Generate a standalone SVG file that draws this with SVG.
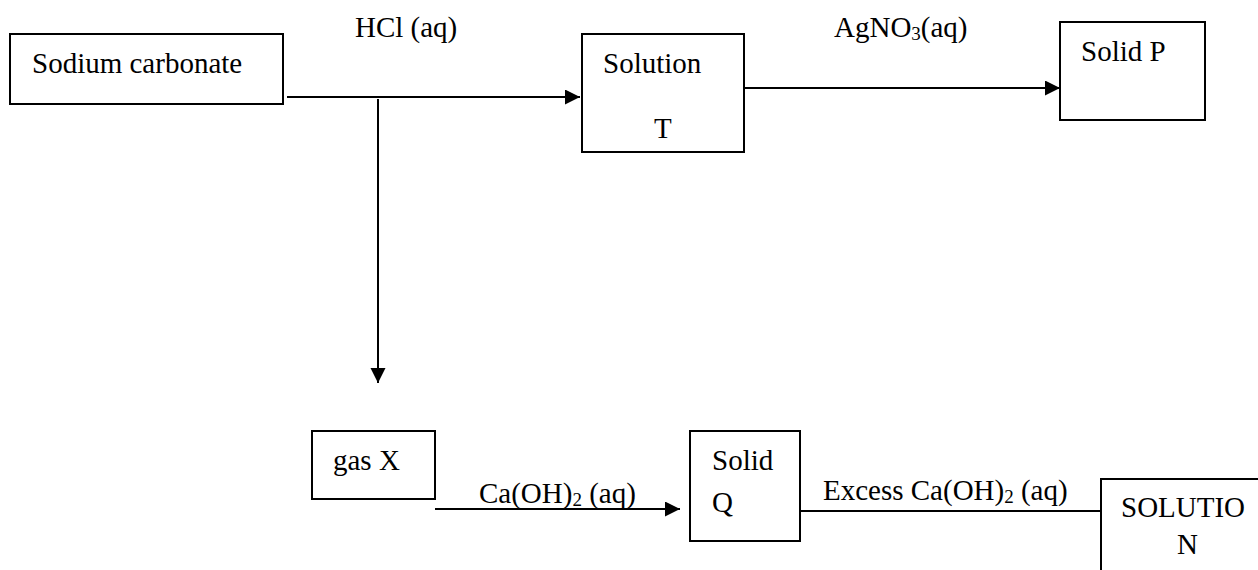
<svg xmlns="http://www.w3.org/2000/svg" width="1258" height="570" viewBox="0 0 1258 570">
<style>
.box{fill:#fff;stroke:#000;stroke-width:2}
.t{font-family:"Liberation Serif","Times New Roman",serif;font-size:29px;fill:#000}
.ln{stroke:#000;stroke-width:2;fill:none}
.sub{font-size:19px}
</style>
<defs>
<marker id="ah" markerWidth="16" markerHeight="16" refX="15" refY="7.5" orient="auto" markerUnits="userSpaceOnUse">
<path d="M0,0 L15,7.5 L0,15 Z" fill="#000"/>
</marker>
</defs>
<rect width="1258" height="570" fill="#fff"/>
<g id="connectors">
<line class="ln" x1="287" y1="97" x2="580" y2="97" marker-end="url(#ah)"/>
<line class="ln" x1="378" y1="99" x2="378" y2="383" marker-end="url(#ah)"/>
<line class="ln" x1="744" y1="88" x2="1060" y2="88" marker-end="url(#ah)"/>
<line class="ln" x1="435" y1="509" x2="680" y2="509" marker-end="url(#ah)"/>
<line class="ln" x1="800" y1="511" x2="1101" y2="511"/>
<text class="t" x="355" y="37">HCl (aq)</text>
<text class="t" x="834" y="37">AgNO<tspan class="sub" dy="3">3</tspan><tspan dy="-3">(aq)</tspan></text>
<text class="t" x="479" y="503">Ca(OH)<tspan class="sub" dy="3">2</tspan><tspan dy="-3"> (aq)</tspan></text>
<text class="t" x="823" y="500">Excess Ca(OH)<tspan class="sub" dy="3">2</tspan><tspan dy="-3"> (aq)</tspan></text>
</g>
<g id="sodium-carbonate">
<rect class="box" x="10" y="34" width="273" height="70"/>
<text class="t" x="32" y="73">Sodium carbonate</text>
</g>
<g id="solution-t">
<rect class="box" x="582" y="34" width="162" height="118"/>
<text class="t" x="603" y="73">Solution</text>
<text class="t" x="654" y="138">T</text>
</g>
<g id="solid-p">
<rect class="box" x="1060" y="22" width="145" height="98"/>
<text class="t" x="1081" y="61">Solid P</text>
</g>
<g id="gas-x">
<rect class="box" x="312" y="431" width="123" height="68"/>
<text class="t" x="333" y="470">gas X</text>
</g>
<g id="solid-q">
<rect class="box" x="690" y="431" width="110" height="110"/>
<text class="t" x="712" y="470">Solid</text>
<text class="t" x="712" y="512">Q</text>
</g>
<g id="solution-n">
<rect class="box" x="1101" y="479" width="200" height="120"/>
<text class="t" x="1121" y="517">SOLUTIO</text>
<text class="t" x="1177" y="554">N</text>
</g>
</svg>
